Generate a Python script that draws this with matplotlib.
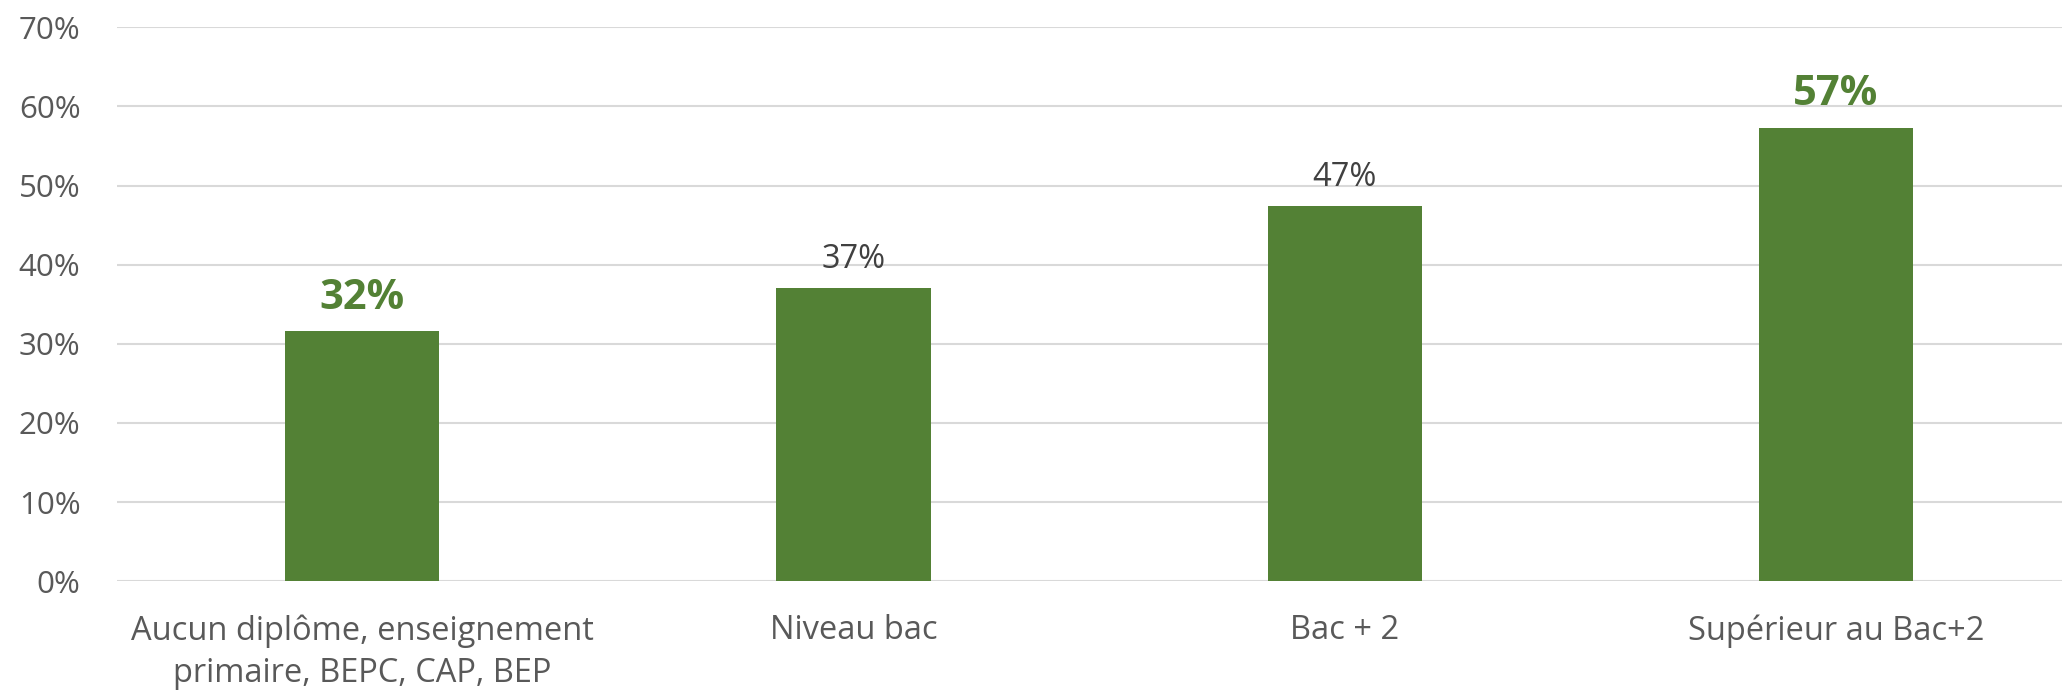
import matplotlib
matplotlib.use('Agg')
import matplotlib.pyplot as plt
from matplotlib.ticker import PercentFormatter

# ── DATA ─────────────────────────────────────
categories = ["Aucun diplôme, enseignement\nprimaire, BEPC, CAP, BEP",
              "Niveau bac", "Bac + 2", "Supérieur au Bac+2"]
values = [31.6, 37.0, 47.4, 57.3]
value_labels = ["32%", "37%", "47%", "57%"]
highlight = [True, False, False, True]
y_ticks = [0, 10, 20, 30, 40, 50, 60, 70]

GREEN = "#538135"
GRID = "#d9d9d9"
TICK_TEXT = "#595959"
LABEL_TEXT = "#404040"

plt.rcParams['font.family'] = ['Open Sans', 'DejaVu Sans']

fig = plt.figure(figsize=(20.62, 6.91), dpi=100)
ax = fig.add_axes([0.0565, 0.159, 0.9435, 0.8015])

x = range(len(categories))
bars = ax.bar(x, values, width=0.314, color=GREEN, zorder=2)

for bar, lab, hl in zip(bars, value_labels, highlight):
    top = bar.get_height()
    if hl:
        ax.annotate(lab, (bar.get_x() + bar.get_width() / 2, top),
                    xytext=(0, 9), textcoords='offset points',
                    ha='center', va='bottom', fontsize=30,
                    fontweight='bold', color=GREEN)
    else:
        ax.annotate(lab, (bar.get_x() + bar.get_width() / 2, top),
                    xytext=(0, 9), textcoords='offset points',
                    ha='center', va='bottom', fontsize=23.5,
                    color=LABEL_TEXT)

ax.set_xlim(-0.5, 3.46)
ax.set_ylim(0, 70)
ax.set_yticks(y_ticks)
ax.yaxis.set_major_formatter(PercentFormatter(decimals=0))
ax.set_xticks(list(x))
ax.set_xticklabels(categories, fontsize=23.5, color=TICK_TEXT, linespacing=1.38)
ax.tick_params(axis='y', labelsize=22.5, colors=TICK_TEXT, length=0, pad=26)
ax.tick_params(axis='x', length=0, pad=24)

ax.grid(axis='y', color=GRID, linewidth=1.5, zorder=0)
ax.set_axisbelow(True)
for spine in ax.spines.values():
    spine.set_visible(False)

fig.savefig('out.png', dpi=100, facecolor='white')
